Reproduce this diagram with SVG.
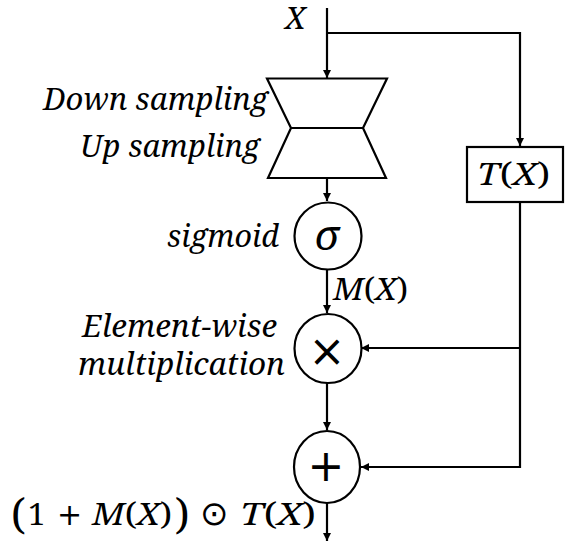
<svg xmlns="http://www.w3.org/2000/svg" width="566" height="543" viewBox="0 0 566 543">
<style>
.ln{fill:none;stroke:#000;stroke-width:2.2}
.shape{fill:#fff;stroke:#000;stroke-width:2.2}
text{font-family:'Noto Serif','Liberation Serif',serif;fill:#000}
.lbl{font-style:italic;font-size:30px}
.m{font-size:31px}
.i{font-style:italic}
.big{font-size:42px}
.sig{font-size:42px;font-style:italic}
.op{font-family:'DejaVu Sans',sans-serif;font-size:44px}
.dot{font-family:'DejaVu Sans',sans-serif;font-size:34px}
.pl{font-family:'DejaVu Sans',sans-serif;font-size:30px}
</style>
<defs>
<marker id="ah" viewBox="0 0 10 10" refX="10" refY="5" markerWidth="9" markerHeight="8" markerUnits="userSpaceOnUse" orient="auto">
<path d="M0,0 L10,5 L0,10 z" fill="#000"/>
</marker>
</defs>
<rect width="566" height="543" fill="#fff"/>
<g id="connectors">
<path class="ln" d="M327,8 V78" marker-end="url(#ah)"/>
<path class="ln" d="M327,33 H520 V146" marker-end="url(#ah)"/>
<path class="ln" d="M327,178 V201" marker-end="url(#ah)"/>
<path class="ln" d="M327,270 V313" marker-end="url(#ah)"/>
<path class="ln" d="M327,383 V430" marker-end="url(#ah)"/>
<path class="ln" d="M327,503 V541" marker-end="url(#ah)"/>
<path class="ln" d="M520,202 V467 H361" marker-end="url(#ah)"/>
<path class="ln" d="M520,348 H361" marker-end="url(#ah)"/>
</g>
<g id="input">
<text class="m i" x="285" y="29" font-size="30">X</text>
</g>
<g id="sampling">
<path class="shape" d="M267,78.5 H387 L363,128 L386,178 H268 L291,128 Z"/>
<path class="ln" d="M291,128 H363"/>
<text class="lbl" x="43" y="110" textLength="225" lengthAdjust="spacingAndGlyphs">Down sampling</text>
<text class="lbl" x="80" y="157" textLength="180" lengthAdjust="spacingAndGlyphs">Up sampling</text>
</g>
<g id="transform">
<rect class="shape" x="467" y="147" width="96" height="55"/>
<text class="m" x="477" y="185" textLength="73" lengthAdjust="spacingAndGlyphs"><tspan class="i">T</tspan>(<tspan class="i">X</tspan>)</text>
</g>
<g id="sigmoid">
<circle class="shape" cx="328" cy="236" r="33.5"/>
<text class="sig" x="327" y="250" text-anchor="middle">σ</text>
<text class="lbl" x="167" y="247" textLength="112" lengthAdjust="spacingAndGlyphs">sigmoid</text>
<text class="m" x="333" y="300" textLength="75" lengthAdjust="spacingAndGlyphs"><tspan class="i">M</tspan>(<tspan class="i">X</tspan>)</text>
</g>
<g id="multiply">
<ellipse class="shape" cx="328" cy="348.5" rx="33.5" ry="34.5"/>
<text class="op" x="327" y="366" text-anchor="middle">×</text>
<text class="lbl" x="82" y="337" textLength="195" lengthAdjust="spacingAndGlyphs">Element-wise</text>
<text class="lbl" x="78" y="375" textLength="207" lengthAdjust="spacingAndGlyphs">multiplication</text>
</g>
<g id="add">
<ellipse class="shape" cx="327" cy="467" rx="33" ry="36"/>
<text class="op" x="326" y="481" text-anchor="middle">+</text>
</g>
<g id="output">
<text class="big" x="11" y="529">(</text>
<text class="m" x="28" y="525">1</text>
<text class="pl" x="57" y="525">+</text>
<text class="m" x="92" y="525" textLength="80" lengthAdjust="spacingAndGlyphs"><tspan class="i">M</tspan>(<tspan class="i">X</tspan>)</text>
<text class="big" x="175" y="529">)</text>
<text class="dot" x="200" y="525">⊙</text>
<text class="m" x="240" y="525" textLength="76" lengthAdjust="spacingAndGlyphs"><tspan class="i">T</tspan>(<tspan class="i">X</tspan>)</text>
</g>
</svg>
